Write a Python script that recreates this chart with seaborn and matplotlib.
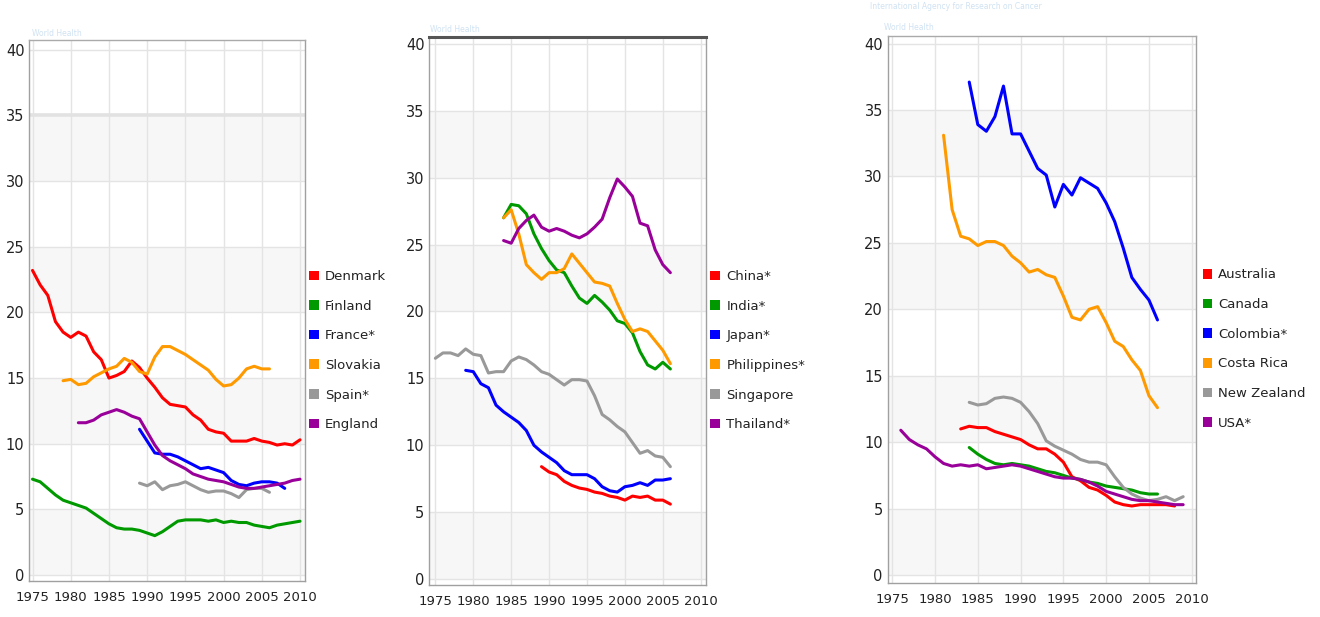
import matplotlib
matplotlib.use("Agg")
import numpy as np
import pandas as pd
import matplotlib.pyplot as plt
import seaborn as sns
from matplotlib.patches import Patch

# ---------------- data ----------------
tick_years = [1975, 1980, 1985, 1990, 1995, 2000, 2005, 2010]
tick_rates = [0, 5, 10, 15, 20, 25, 30, 35, 40]

# panel 1
denmark_start = 1975
denmark = [23.2, 22.1, 21.3, 19.3, 18.5, 18.1, 18.5, 18.2, 17.0, 16.4, 15.0, 15.2, 15.5, 16.3,
           15.8, 15.0, 14.3, 13.5, 13.0, 12.9, 12.8, 12.2, 11.8, 11.1, 10.9, 10.8, 10.2, 10.2,
           10.2, 10.4, 10.2, 10.1, 9.9, 10.0, 9.9, 10.3]
finland_start = 1975
finland = [7.3, 7.1, 6.6, 6.1, 5.7, 5.5, 5.3, 5.1, 4.7, 4.3, 3.9, 3.6, 3.5, 3.5, 3.4, 3.2, 3.0,
           3.3, 3.7, 4.1, 4.2, 4.2, 4.2, 4.1, 4.2, 4.0, 4.1, 4.0, 4.0, 3.8, 3.7, 3.6, 3.8, 3.9,
           4.0, 4.1]
france_start = 1989
france = [11.1, 10.2, 9.3, 9.2, 9.2, 9.0, 8.7, 8.4, 8.1, 8.2, 8.0, 7.8, 7.2, 6.9, 6.8, 7.0,
          7.1, 7.1, 7.0, 6.6]
slovakia_start = 1979
slovakia = [14.8, 14.9, 14.5, 14.6, 15.1, 15.4, 15.7, 15.9, 16.5, 16.2, 15.5, 15.3, 16.6, 17.4,
            17.4, 17.1, 16.8, 16.4, 16.0, 15.6, 14.9, 14.4, 14.5, 15.0, 15.7, 15.9, 15.7, 15.7]
spain_start = 1989
spain = [7.0, 6.8, 7.1, 6.5, 6.8, 6.9, 7.1, 6.8, 6.5, 6.3, 6.4, 6.4, 6.2, 5.9, 6.5, 6.6, 6.6, 6.3]
england_start = 1981
england = [11.6, 11.6, 11.8, 12.2, 12.4, 12.6, 12.4, 12.1, 11.9, 10.9, 9.9, 9.1, 8.7, 8.4, 8.1,
           7.7, 7.5, 7.3, 7.2, 7.1, 6.9, 6.7, 6.6, 6.6, 6.7, 6.8, 6.9, 7.0, 7.2, 7.3]

# panel 2
china_start = 1989
china = [8.4, 8.0, 7.8, 7.3, 7.0, 6.8, 6.7, 6.5, 6.4, 6.2, 6.1, 5.9, 6.2, 6.1, 6.2, 5.9, 5.9, 5.6]
india_start = 1984
india = [27.0, 28.0, 27.9, 27.3, 25.8, 24.7, 23.8, 23.1, 22.9, 21.9, 21.0, 20.6, 21.2, 20.7,
         20.1, 19.3, 19.1, 18.4, 17.0, 16.0, 15.7, 16.2, 15.7]
japan_start = 1979
japan = [15.6, 15.5, 14.6, 14.3, 13.0, 12.5, 12.1, 11.7, 11.1, 10.0, 9.5, 9.1, 8.7, 8.1, 7.8,
         7.8, 7.8, 7.5, 6.9, 6.6, 6.5, 6.9, 7.0, 7.2, 7.0, 7.4, 7.4, 7.5]
philippines_start = 1984
philippines = [27.0, 27.6, 25.8, 23.5, 22.9, 22.4, 22.9, 22.9, 23.2, 24.3, 23.6, 22.9, 22.2,
               22.1, 21.9, 20.6, 19.4, 18.5, 18.7, 18.5, 17.8, 17.1, 16.1]
singapore_start = 1975
singapore = [16.5, 16.9, 16.9, 16.7, 17.2, 16.8, 16.7, 15.4, 15.5, 15.5, 16.3, 16.6, 16.4, 16.0,
             15.5, 15.3, 14.9, 14.5, 14.9, 14.9, 14.8, 13.7, 12.3, 11.9, 11.4, 11.0, 10.2, 9.4,
             9.6, 9.2, 9.1, 8.4]
thailand_start = 1984
thailand = [25.3, 25.1, 26.2, 26.8, 27.2, 26.3, 26.0, 26.2, 26.0, 25.7, 25.5, 25.8, 26.3, 26.9,
            28.5, 29.9, 29.3, 28.6, 26.6, 26.4, 24.6, 23.5, 22.9]

# panel 3
australia_start = 1983
australia = [11.0, 11.2, 11.1, 11.1, 10.8, 10.6, 10.4, 10.2, 9.8, 9.5, 9.5, 9.1, 8.5, 7.4, 7.1,
             6.6, 6.4, 6.0, 5.5, 5.3, 5.2, 5.3, 5.3, 5.3, 5.3, 5.2]
canada_start = 1984
canada = [9.6, 9.1, 8.7, 8.4, 8.3, 8.4, 8.3, 8.2, 8.0, 7.8, 7.7, 7.5, 7.3, 7.2, 7.0, 6.9, 6.7,
          6.6, 6.5, 6.4, 6.2, 6.1, 6.1]
colombia_start = 1984
colombia = [37.1, 33.9, 33.4, 34.5, 36.8, 33.2, 33.2, 31.9, 30.6, 30.1, 27.7, 29.4, 28.6, 29.9,
            29.5, 29.1, 28.0, 26.6, 24.6, 22.4, 21.5, 20.7, 19.2]
costa_rica_start = 1981
costa_rica = [33.1, 27.5, 25.5, 25.3, 24.8, 25.1, 25.1, 24.8, 24.0, 23.5, 22.8, 23.0, 22.6, 22.4,
              21.0, 19.4, 19.2, 20.0, 20.2, 19.0, 17.6, 17.2, 16.2, 15.4, 13.5, 12.6]
new_zealand_start = 1984
new_zealand = [13.0, 12.8, 12.9, 13.3, 13.4, 13.3, 13.0, 12.3, 11.4, 10.1, 9.7, 9.4, 9.1, 8.7,
               8.5, 8.5, 8.3, 7.4, 6.6, 6.1, 5.8, 5.6, 5.7, 5.9, 5.6, 5.9]
usa_start = 1976
usa = [10.9, 10.2, 9.8, 9.5, 8.9, 8.4, 8.2, 8.3, 8.2, 8.3, 8.0, 8.1, 8.2, 8.3, 8.2, 8.0, 7.8, 7.6,
       7.4, 7.3, 7.3, 7.2, 7.0, 6.7, 6.3, 6.1, 5.9, 5.7, 5.6, 5.6, 5.5, 5.4, 5.3, 5.3]

panel1 = [("Denmark", denmark_start, denmark), ("Finland", finland_start, finland),
          ("France*", france_start, france), ("Slovakia", slovakia_start, slovakia),
          ("Spain*", spain_start, spain), ("England", england_start, england)]
panel2 = [("China*", china_start, china), ("India*", india_start, india),
          ("Japan*", japan_start, japan), ("Philippines*", philippines_start, philippines),
          ("Singapore", singapore_start, singapore), ("Thailand*", thailand_start, thailand)]
panel3 = [("Australia", australia_start, australia), ("Canada", canada_start, canada),
          ("Colombia*", colombia_start, colombia), ("Costa Rica", costa_rica_start, costa_rica),
          ("New Zealand", new_zealand_start, new_zealand), ("USA*", usa_start, usa)]

series_colors = ["#ff0000", "#009900", "#0000ff", "#ff9900", "#999999", "#990099"]

# ---------------- style ----------------
sns.set_style("white")
plt.rcParams["font.family"] = ["DejaVu Sans"]
XFS, YFS, LFS = 9.5, 10.5, 9.5

W, H = 1320, 617
fig = plt.figure(figsize=(W / 100, H / 100), dpi=100)


def px_rect(left, top, right, bottom):
    return [left / W, 1 - bottom / H, (right - left) / W, (bottom - top) / H]


panels = [
    dict(series=panel1, rect=px_rect(29.3, 40.4, 305, 580.8), xlim=(1974.58, 2010.65),
         ylim=(-0.44, 40.72), top=("#aaaaaa", 1.0), leg=(309, 270), grid35=True),
    dict(series=panel2, rect=px_rect(429.3, 37.3, 706, 584.8), xlim=(1974.2, 2010.7),
         ylim=(-0.43, 40.49), top=("#555555", 2.2), leg=(710.5, 270), grid35=False),
    dict(series=panel3, rect=px_rect(887.7, 36.1, 1196, 582.8), xlim=(1974.47, 2010.5),
         ylim=(-0.58, 40.56), top=("#aaaaaa", 1.0), leg=(1202.5, 268.5), grid35=False),
]

for p in panels:
    ax = fig.add_axes(p["rect"])
    rows = []
    for name, start, vals in p["series"]:
        for i, v in enumerate(vals):
            rows.append((name, start + i, v))
    df = pd.DataFrame(rows, columns=["country", "year", "rate"])
    order = [s[0] for s in p["series"]]
    pal = dict(zip(order, series_colors))

    for lo in (0, 10, 20, 30):
        ax.axhspan(lo, lo + 5, color="#f7f7f7", lw=0, zorder=0)
    ax.set_axisbelow(True)
    ax.grid(True, color="#e4e4e4", lw=1.0)

    sns.lineplot(data=df, x="year", y="rate", hue="country", hue_order=order, palette=pal,
                 estimator=None, legend=False, linewidth=2.2, ax=ax)

    ax.set_xlim(*p["xlim"])
    ax.set_ylim(*p["ylim"])
    ax.set_xticks(tick_years)
    ax.set_yticks(tick_rates)
    if p["grid35"]:
        ax.get_ygridlines()[7].set_linewidth(2.6)
        ax.get_ygridlines()[7].set_color("#e2e2e2")
    ax.set_xlabel("")
    ax.set_ylabel("")
    ax.tick_params(axis="x", length=2.5, width=0.8, color="#999999", pad=5,
                   labelsize=XFS, labelcolor="#222222")
    ax.tick_params(axis="y", length=2.5, width=0.8, color="#999999", pad=1,
                   labelsize=YFS, labelcolor="#222222")
    for side in ("left", "right", "bottom"):
        ax.spines[side].set_color("#a0a0a0")
        ax.spines[side].set_linewidth(1.0)
    ax.spines["top"].set_color(p["top"][0])
    ax.spines["top"].set_linewidth(p["top"][1])

    handles = [Patch(facecolor=c, edgecolor="none") for c in series_colors]
    lx, ly = p["leg"]
    fig.legend(handles, order, loc="upper left", bbox_to_anchor=(lx / W, 1 - ly / H),
               bbox_transform=fig.transFigure, frameon=False, borderpad=0, borderaxespad=0,
               handlelength=0.75, handleheight=0.75, handletextpad=0.45, labelspacing=1.26,
               fontsize=LFS, labelcolor="#222222")

# faint watermark remnants from the source screenshots
fig.text(32 / W, 1 - 36 / H, "World Health", fontsize=5.5, color="#cfe2f2")
fig.text(430 / W, 1 - 32 / H, "World Health", fontsize=5.5, color="#cfe2f2")
fig.text(884 / W, 1 - 30 / H, "World Health", fontsize=5.5, color="#cfe2f2")
fig.text(870 / W, 1 - 9 / H, "International Agency for Research on Cancer", fontsize=5.5,
         color="#cfe2f2")

fig.savefig("out.png", dpi=100)
